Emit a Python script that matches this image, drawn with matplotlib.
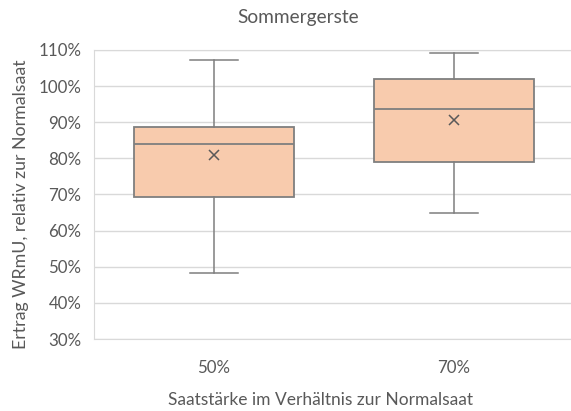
import matplotlib.pyplot as plt
from matplotlib.ticker import PercentFormatter

plt.rcParams["font.family"] = ["Lato", "DejaVu Sans"]

# Werte (in %)
kategorien = ["50%", "70%"]
minimum = [48.2, 65.0]
q1 = [69.2, 78.9]
median = [84.0, 93.6]
q3 = [88.6, 102.0]
maximum = [107.1, 109.1]
mittel = [81.0, 90.7]

GRAU = "#595959"
LINIE = "#7f7f7f"
FUELLUNG = "#f8cbad"

stats = []
for i, k in enumerate(kategorien):
    stats.append({
        "label": k,
        "whislo": minimum[i],
        "q1": q1[i],
        "med": median[i],
        "q3": q3[i],
        "whishi": maximum[i],
        "mean": mittel[i],
        "fliers": [],
    })

fig = plt.figure(figsize=(5.71, 4.11), dpi=100)
ax = fig.add_axes([94 / 571, 1 - 339 / 411, 480 / 571, 289 / 411])

ax.bxp(
    stats,
    positions=[1, 2],
    widths=0.67,
    showmeans=True,
    patch_artist=True,
    boxprops=dict(facecolor=FUELLUNG, edgecolor=LINIE, linewidth=1.3),
    medianprops=dict(color=LINIE, linewidth=1.3),
    whiskerprops=dict(color=LINIE, linewidth=1.1),
    capprops=dict(color=LINIE, linewidth=1.1),
    capwidths=0.196,
    meanprops=dict(marker="x", markeredgecolor=GRAU, markersize=7, markeredgewidth=1.1),
    zorder=3,
)

ax.set_xlim(0.5, 2.5)
ax.set_ylim(30, 110)
ax.set_yticks(range(30, 111, 10))
ax.yaxis.set_major_formatter(PercentFormatter(decimals=0))
ax.grid(axis="y", color="#d9d9d9", linewidth=1)
ax.set_axisbelow(True)

for s in ax.spines.values():
    s.set_color("#d9d9d9")
ax.tick_params(length=0, colors=GRAU, labelsize=12.2)
ax.tick_params(axis="x", pad=15)
ax.tick_params(axis="y", pad=9)

fig.text(298 / 571, 1 - 18 / 411, "Sommergerste", ha="center", va="center",
         fontsize=13.8, color=GRAU)
fig.text(320 / 571, 1 - 400 / 411, "Saatstärke im Verhältnis zur Normalsaat",
         ha="center", va="center", fontsize=12.5, color=GRAU)
fig.text(21 / 571, 1 - 204 / 411, "Ertrag WRmU, relativ zur Normalsaat",
         ha="center", va="center", rotation=90, fontsize=12.8, color=GRAU)

fig.savefig("out.png", dpi=100)
